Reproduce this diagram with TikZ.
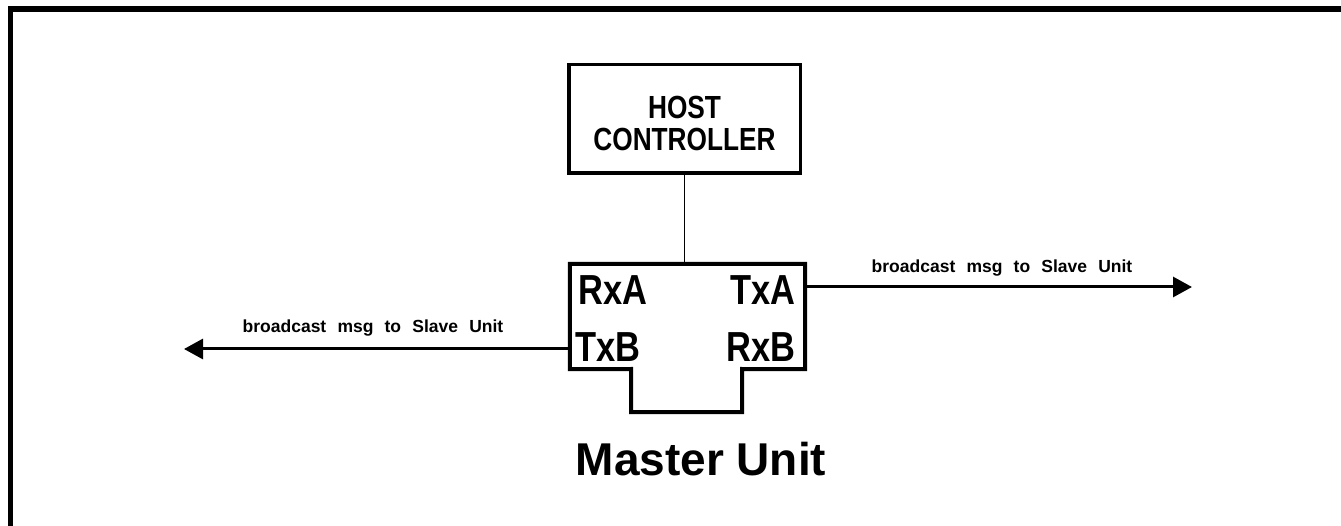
\documentclass[tikz,border=0pt]{standalone}
\usepackage{fontspec}
\setmainfont{Liberation Sans}
\newfontfamily\nbfont[FakeStretch=0.82]{Liberation Sans}
\newfontfamily\lblfont[WordSpace=2.3]{Liberation Sans}
\usetikzlibrary{arrows.meta}
\begin{document}
\begin{tikzpicture}[x=1pt,y=-1pt,
  boxline/.style={line width=3.5pt},
  port/.style={inner sep=0pt, font=\nbfont\bfseries\fontsize{42}{42}\selectfont},
  hosttext/.style={inner sep=0pt, anchor=base, font=\nbfont\bfseries\fontsize{32}{32}\selectfont},
  lbl/.style={inner sep=0pt, anchor=base, font=\lblfont\bfseries\fontsize{17.5}{17.5}\selectfont},
  bigarrow/.style={line width=3pt, -{Triangle[length=19pt,width=20pt]}}]
\useasboundingbox (0,0) rectangle (1341,526);
\clip (0,0) rectangle (1341,526);
% frame
\draw[line width=5.5pt] (1360,9) -- (10.5,9) -- (10.5,560);
% host controller
\node[draw, boxline, minimum width=231.5pt, minimum height=108.5pt, inner sep=0pt] (host) at (684.5,119) {};
\node[hosttext] (hostA) at (684.5,119) {HOST};
\node[hosttext] (hostB) at (684.5,151) {CONTROLLER};
% master unit outline
\node[minimum width=235pt, minimum height=105pt, inner sep=0pt] (master) at (687.5,316.5) {};
\draw[line width=4pt, line join=miter] (master.north west) -- (master.north east) -- (master.south east)
  -- (742,369) -- (742,412) -- (631,412) -- (631,369) -- (master.south west) -- cycle;
\node[port, anchor=base west] (rxa) at (578,305) {RxA};
\node[port, anchor=base east] (txa) at (796,305) {TxA};
\node[port, anchor=base west] (txb) at (575,362) {TxB};
\node[port, anchor=base east] (rxb) at (796,362) {RxB};
\node[inner sep=0pt, anchor=base, font=\bfseries\fontsize{46}{46}\selectfont] (mname) at (701,475) {Master Unit};
% connector host - master
\draw[line width=1pt] (host.south) -- (host.south |- master.north);
% arrows
\coordinate (rtip) at (1192,287);
\coordinate (ltip) at (184,349);
\draw[bigarrow] (master.east |- rtip) -- (rtip);
\draw[bigarrow] (master.west |- ltip) -- (ltip);
\node[lbl] (rlbl) at (1002,273) {broadcast msg to Slave Unit};
\node[lbl] (llbl) at (373,333) {broadcast msg to Slave Unit};
\end{tikzpicture}
\end{document}
